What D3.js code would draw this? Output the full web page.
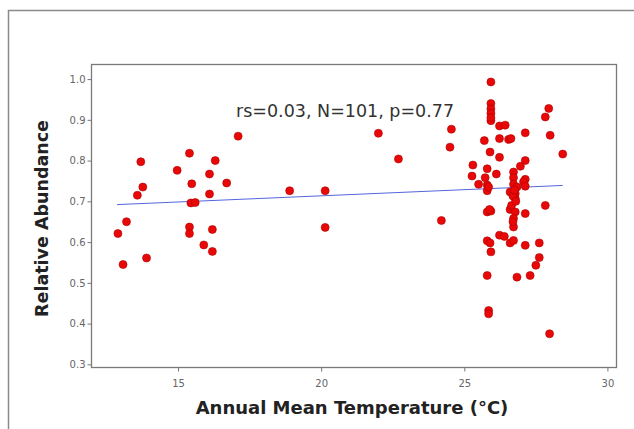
<!DOCTYPE html>
<html>
<head>
<meta charset="utf-8">
<script src="https://cdn.jsdelivr.net/npm/d3@7"></script>
<style>
  body { margin: 0; background: #fff; }
  svg { display: block; }
</style>
</head>
<body>
<div id="viz"></div>
<script>
var width = 634
var height = 429

// data
var temp = [
  13.08, 12.9, 13.2, 13.58, 13.77, 13.7, 13.9, 14.97, 15.4, 15.48,
  15.45, 15.6, 15.4, 15.4, 15.9, 16.1, 16.1, 16.2, 16.2, 16.3,
  16.7, 17.1, 18.9, 20.14, 20.14, 22.0, 22.7, 24.2, 24.55, 24.5,
  25.93, 25.93, 25.93, 25.93, 25.93, 26.23, 26.43, 27.95, 27.83, 27.13,
  28.0, 25.7, 26.23, 26.55, 26.63, 25.9, 26.23, 28.44, 25.3, 27.13,
  26.96, 25.8, 26.12, 26.72, 25.73, 26.72, 27.13, 25.27, 25.5, 25.8,
  25.8, 26.72, 26.84, 27.07, 27.13, 26.6, 26.78, 26.78, 27.83, 25.8,
  25.93, 26.6, 26.78, 27.13, 26.72, 26.72, 26.23, 26.4, 25.8, 25.9,
  26.6, 26.72, 27.13, 27.62, 25.93, 27.62, 27.5, 25.8, 26.84, 27.3,
  25.85, 25.85, 27.98, 26.7, 26.75, 25.93, 26.65, 26.8, 25.85, 26.7,
  25.88
]
var abundance = [
  0.545, 0.621, 0.650, 0.715, 0.735, 0.797, 0.561, 0.776, 0.818, 0.743,
  0.696, 0.697, 0.637, 0.621, 0.593, 0.767, 0.718, 0.631, 0.577, 0.800,
  0.745, 0.860, 0.726, 0.726, 0.636, 0.867, 0.804, 0.653, 0.877, 0.833,
  0.993, 0.940, 0.927, 0.916, 0.898, 0.885, 0.887, 0.928, 0.907, 0.868,
  0.862, 0.849, 0.854, 0.852, 0.854, 0.821, 0.808, 0.816, 0.789, 0.800,
  0.786, 0.780, 0.767, 0.772, 0.758, 0.758, 0.754, 0.762, 0.742, 0.740,
  0.726, 0.742, 0.735, 0.748, 0.737, 0.723, 0.719, 0.707, 0.690, 0.674,
  0.676, 0.680, 0.674, 0.670, 0.658, 0.637, 0.617, 0.614, 0.603, 0.598,
  0.598, 0.604, 0.592, 0.598, 0.576, 0.562, 0.543, 0.518, 0.514, 0.518,
  0.432, 0.424, 0.375, 0.713, 0.728, 0.905, 0.690, 0.700, 0.735, 0.650,
  0.680
]
var fitX = [12.87, 28.44]
var fitY = [0.692, 0.739]
var xTicks = [15, 20, 25, 30]
var yTicks = [0.3, 0.4, 0.5, 0.6, 0.7, 0.8, 0.9, 1.0]
var statText = "rs=0.03, N=101, p=0.77"

var plotL = 91, plotT = 64, plotR = 616, plotB = 367

var svg = d3.select("#viz")
  .append("svg")
  .attr("width", width)
  .attr("height", height)

// outer frame
svg.append("path")
  .attr("d", "M8.5," + height + "V10.5H" + width)
  .attr("fill", "none")
  .attr("stroke", "#8a8a8a")
  .attr("stroke-width", 1.5)

var x = d3.scaleLinear().domain([11.96, 30.3]).range([plotL, plotR])
var y = d3.scaleLinear().domain([0.2935, 1.037]).range([plotB, plotT])

// plot box
svg.append("rect")
  .attr("x", plotL + 0.5)
  .attr("y", plotT + 0.5)
  .attr("width", plotR - plotL)
  .attr("height", plotB - plotT)
  .attr("fill", "#fff")
  .attr("stroke", "#7a7a7a")
  .attr("stroke-width", 1.3)

var xAxis = svg.append("g")
  .attr("transform", "translate(0," + (plotB + 0.5) + ")")
  .call(d3.axisBottom(x).tickValues(xTicks).tickSize(4).tickSizeOuter(0))
var yAxis = svg.append("g")
  .attr("transform", "translate(" + (plotL + 0.5) + ",0)")
  .call(d3.axisLeft(y).tickValues(yTicks).tickFormat(d3.format(".1f")).tickSize(4).tickSizeOuter(0))

svg.selectAll(".domain").remove()
svg.selectAll(".tick line").attr("stroke", "#777")
svg.selectAll(".tick text")
  .attr("fill", "#666")
  .style("font-family", "DejaVu Sans, sans-serif")
  .style("font-size", "10px")
xAxis.selectAll(".tick text").attr("dy", "1.2em")
yAxis.selectAll(".tick text").attr("x", -6)

// regression line
var pts = fitX.map((d, i) => [x(d), y(fitY[i])])
svg.append("path")
  .attr("d", d3.line()(pts))
  .attr("stroke", "#5566dd")
  .attr("stroke-width", 1)
  .attr("fill", "none")

// points
svg.append("g")
  .selectAll("circle")
  .data(temp)
  .enter().append("circle")
    .attr("cx", d => x(d))
    .attr("cy", (d, i) => y(abundance[i]))
    .attr("r", 4)
    .attr("fill", "#e80808")
    .attr("stroke", "#b00000")
    .attr("stroke-width", 0.6)

svg.append("text")
  .attr("x", 236)
  .attr("y", 117)
  .attr("fill", "#333")
  .style("font-family", "DejaVu Sans, sans-serif")
  .style("font-size", "17.5px")
  .text(statText)

svg.append("text")
  .attr("x", 352)
  .attr("y", 414)
  .attr("text-anchor", "middle")
  .attr("fill", "#222")
  .style("font-family", "DejaVu Sans, sans-serif")
  .style("font-weight", "bold")
  .style("font-size", "18px")
  .text("Annual Mean Temperature (°C)")

svg.append("text")
  .attr("transform", "translate(48," + ((plotT + plotB) / 2 + 3) + ") rotate(-90)")
  .attr("text-anchor", "middle")
  .attr("fill", "#222")
  .style("font-family", "DejaVu Sans, sans-serif")
  .style("font-weight", "bold")
  .style("font-size", "17.5px")
  .text("Relative Abundance")
</script>
</body>
</html>
